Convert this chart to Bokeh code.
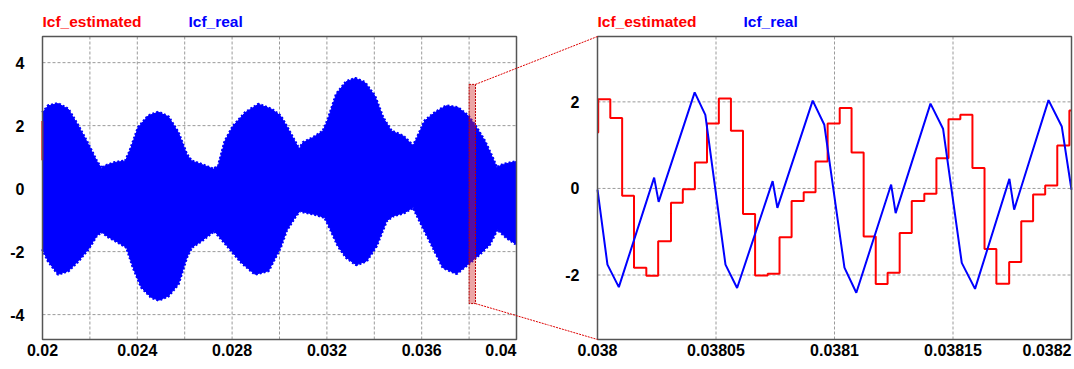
from bokeh.plotting import figure
from bokeh.layouts import row
from bokeh.models import Range1d
from bokeh.core.properties import value
from bokeh.embed import file_html
from bokeh.resources import INLINE

FONT = "Liberation Sans"

# ---------------- data ----------------
# left panel: envelope of the dense Icf_real waveform
env_up_x = [0.02, 0.02024, 0.02066, 0.02109, 0.02151, 0.02193, 0.02228, 0.02249, 0.02263, 0.02306,
            0.02350, 0.02369, 0.02404, 0.02446, 0.02489, 0.02531, 0.02573, 0.02608, 0.02629, 0.02671,
            0.02721, 0.02742, 0.02770, 0.02805, 0.02855, 0.02911, 0.02967, 0.03004,
            0.03029, 0.03064, 0.03083, 0.03099, 0.03142, 0.03184, 0.03205, 0.03240, 0.03282, 0.03320,
            0.03360, 0.03402, 0.03437, 0.03472, 0.03522, 0.03564, 0.03578, 0.03613, 0.03655, 0.03704,
            0.03754, 0.03796, 0.03831, 0.03866, 0.03902, 0.03916, 0.03944, 0.04]
env_up_y = [2.41, 2.63, 2.70, 2.52, 1.99, 1.41, 0.88, 0.64, 0.72, 0.83,
            0.88, 1.20, 1.94, 2.31, 2.43, 2.28, 1.78, 1.09, 0.88, 0.77,
            0.62, 0.72, 1.51, 1.99, 2.41, 2.68, 2.52, 2.31,
            1.99, 1.51, 1.25, 1.46, 1.62, 1.83, 2.20, 3.00, 3.40, 3.50,
            3.37, 2.94, 2.25, 1.83, 1.67, 1.36, 1.57, 2.15, 2.41, 2.63,
            2.57, 2.31, 1.94, 1.51, 0.93, 0.67, 0.77, 0.86]
env_lo_x = [0.02, 0.02024, 0.02066, 0.02109, 0.02151, 0.02193, 0.02228, 0.02249, 0.02277, 0.02320,
            0.02355, 0.02383, 0.02418, 0.02460, 0.02491, 0.02531, 0.02573, 0.02608, 0.02629, 0.02671,
            0.02725, 0.02749, 0.02791, 0.02840, 0.02897, 0.02953, 0.03004,
            0.03029, 0.03064, 0.03085, 0.03113, 0.03156, 0.03191, 0.03212, 0.03247, 0.03282, 0.03324,
            0.03367, 0.03409, 0.03451, 0.03479, 0.03528, 0.03564, 0.03592, 0.03634, 0.03690, 0.03747,
            0.03796, 0.03845, 0.03887, 0.03919, 0.03958, 0.04]
env_lo_y = [-1.92, -2.30, -2.72, -2.61, -2.30, -1.92, -1.50, -1.37, -1.53, -1.71,
            -1.87, -2.51, -3.14, -3.46, -3.54, -3.41, -3.03, -2.19, -1.87, -1.66,
            -1.34, -1.55, -1.92, -2.35, -2.72, -2.61, -1.87,
            -1.34, -0.92, -0.71, -0.76, -0.83, -0.92, -1.24, -1.82, -2.19, -2.42,
            -2.30, -1.82, -1.03, -0.87, -0.76, -0.60, -1.03, -1.66, -2.51, -2.70,
            -2.40, -2.08, -1.77, -1.29, -1.56, -1.77]
# visible start of Icf_estimated in the left panel
left_est_x = [0.02, 0.02]
left_est_y = [0.90, 2.15]

# right panel (zoom of 0.038 .. 0.0382 s), times in microseconds after T0
T0 = 0.038
est_t_us = [0, 0.3, 5.4, 10.4, 15.4, 20.6, 25.6, 31.0, 36.0, 41.1,
            46.2, 51.2, 56.3, 61.4, 66.5, 71.8, 76.8, 81.9, 87.0, 92.0,
            97.1, 102.2, 107.2, 112.3, 117.4, 122.4, 127.5, 132.6, 137.9, 143.0,
            148.1, 153.1, 158.2, 163.3, 168.3, 173.7, 178.8, 183.8, 188.9, 194.0,
            199.1, 200.0]
est_val = [1.29, 2.06, 1.63, -0.17, -1.83, -2.02, -1.22, -0.33, -0.02, 0.60,
           1.50, 2.08, 1.33, -0.59, -2.01, -1.97, -1.13, -0.29, -0.09, 0.62,
           1.50, 1.86, 0.83, -1.11, -2.21, -1.95, -1.03, -0.29, -0.12, 0.70,
           1.60, 1.70, 0.47, -1.40, -2.20, -1.70, -0.76, -0.14, 0.07, 0.99,
           1.80, 1.80]
real_t_us = [0, 4.2, 9.0, 23.9, 25.8, 41.0, 45.5, 54.0, 58.9, 73.9, 75.9, 90.8, 95.7,
             104.2, 109.2, 123.9, 125.8, 140.5, 145.8, 153.7, 159.3, 173.8, 175.8, 190.3, 195.9, 200.0]
real_val = [-0.03, -1.76, -2.28, 0.25, -0.31, 2.22, 1.70, -1.76, -2.30, 0.17, -0.45, 2.03, 1.47,
            -1.83, -2.41, 0.09, -0.57, 1.96, 1.38, -1.72, -2.32, 0.22, -0.49, 2.04, 1.43, -0.03]

# zoom window marked on the left panel
zoom_x = [0.038, 0.03827]
zoom_y = [-3.65, 3.31]

# ticks / labels
x1_ticks = [0.02, 0.024, 0.028, 0.032, 0.036]
x1_labels = ["0.02", "0.024", "0.028", "0.032", "0.036"]
x1_last = (0.04, "0.04")
x1_grid = [0.022, 0.024, 0.026, 0.028, 0.03, 0.032, 0.034, 0.036, 0.038]
y1_ticks = [-4, -2, 0, 2, 4]
x2_ticks = [0.038, 0.03805, 0.0381, 0.03815]
x2_labels = ["0.038", "0.03805", "0.0381", "0.03815"]
x2_last = (0.0382, "0.0382")
x2_grid = [0.03805, 0.0381, 0.03815]
y2_ticks = [-2, 0, 2]
series_names = ["Icf_estimated", "Icf_real"]
series_colors = ["#ff0000", "#0000ff"]

# ---------------- layout (pixels) ----------------
H = 366
W1, W2 = 548, 525
BOX_T, BOX_B = 36, 339
BOX1_L, BOX1_R = 42, 516
BOX2_L, BOX2_R = 49, 523
X1R = (0.02, 0.04)
Y1R = (-4.79, 4.83)
X2R = (0.038, 0.0382)
Y2R = (-3.49, 3.51)


def make_fig(w, bl, br, xr, yr):
    sx = (xr[1] - xr[0]) / (br - bl)
    sy = (yr[1] - yr[0]) / (BOX_B - BOX_T)
    p = figure(width=w, height=H,
               x_range=Range1d(xr[0] - bl * sx, xr[0] + (w - bl) * sx),
               y_range=Range1d(yr[0] - (H - BOX_B) * sy, yr[1] + BOX_T * sy),
               output_backend="svg", toolbar_location=None, title=None,
               x_axis_type=None, y_axis_type=None,
               min_border=0, min_border_left=0, min_border_right=0,
               min_border_top=0, min_border_bottom=0)
    p.outline_line_color = None
    p.background_fill_color = "white"
    p.border_fill_color = "white"
    return p, sx, sy


def draw_grid(p, xr, yr, xg, yt):
    p.segment(x0=xg, y0=[yr[0]] * len(xg), x1=xg, y1=[yr[1]] * len(xg),
              line_color="#9a9a9a", line_dash="3 2", line_width=1)
    p.segment(x0=[xr[0]] * len(yt), y0=yt, x1=[xr[1]] * len(yt), y1=yt,
              line_color="#9a9a9a", line_dash="3 2", line_width=1)


def draw_box_and_texts(p, xr, yr, xt, xl, last, yt):
    p.quad(left=[xr[0]], right=[xr[1]], bottom=[yr[0]], top=[yr[1]],
           fill_color=None, line_color="#555555", line_width=1.5)
    common = dict(text_font=value(FONT), text_font_style="bold", text_font_size="16px",
                  text_color="black")
    p.text(x=xt, y=[yr[0]] * len(xt), text=xl, text_align="center", text_baseline="top",
           y_offset=4, **common)
    p.text(x=[last[0]], y=[yr[0]], text=[last[1]], text_align="right", text_baseline="top",
           y_offset=4, **common)
    p.text(x=[xr[0]] * len(yt), y=yt, text=[str(t) for t in yt], text_align="right",
           text_baseline="middle", x_offset=-18, **common)
    for i, (name, col) in enumerate(zip(series_names, series_colors)):
        p.text(x=[xr[0]], y=[yr[1]], text=[name], x_offset=146 * i, y_offset=-15,
               text_align="left", text_baseline="alphabetic", text_color=col,
               text_font=value(FONT), text_font_style="bold", text_font_size="15.5px")


p1, sx1, sy1 = make_fig(W1, BOX1_L, BOX1_R, X1R, Y1R)
p2, sx2, sy2 = make_fig(W2, BOX2_L, BOX2_R, X2R, Y2R)

# ---- left panel ----
draw_grid(p1, X1R, Y1R, x1_grid, y1_ticks)
p1.line(left_est_x, left_est_y, line_color=series_colors[0], line_width=2)
p1.patch(x=env_up_x + env_lo_x[::-1], y=env_up_y + env_lo_y[::-1],
         fill_color=series_colors[1], line_color=series_colors[1], line_width=1)
for ex, ey in ((env_up_x, env_up_y), (env_lo_x, env_lo_y)):
    p1.line(ex, ey, line_color=series_colors[1], line_width=3, line_dash="2 2")
p1.line(left_est_x, left_est_y, line_color=series_colors[0], line_width=1.5)
p1.quad(left=[zoom_x[0]], right=[zoom_x[1]], bottom=[zoom_y[0]], top=[zoom_y[1]],
        fill_color="#d02020", fill_alpha=0.4, line_color="#c00000", line_dash="2 1", line_width=1)
draw_box_and_texts(p1, X1R, Y1R, x1_ticks, x1_labels, x1_last, y1_ticks)

# ---- right panel ----
draw_grid(p2, X2R, Y2R, x2_grid, y2_ticks)
est_t = [T0 + u * 1e-6 for u in est_t_us]
real_t = [T0 + u * 1e-6 for u in real_t_us]
p2.step(est_t, est_val, mode="after", line_color=series_colors[0], line_width=2)
p2.line(real_t, real_val, line_color=series_colors[1], line_width=2)
draw_box_and_texts(p2, X2R, Y2R, x2_ticks, x2_labels, x2_last, y2_ticks)


# ---- connector lines (zoom box corners -> right panel frame corners) ----
def page_x1(x):
    return BOX1_L + (x - X1R[0]) / sx1


def page_x2(x):
    return W1 + BOX2_L + (x - X2R[0]) / sx2


def page_y(y, yr, sy):
    return BOX_T + (yr[1] - y) / sy


def data_x1(px):
    return X1R[0] + (px - BOX1_L) * sx1


def data_x2(px):
    return X2R[0] + (px - W1 - BOX2_L) * sx2


def data_y(py, yr, sy):
    return yr[1] - (py - BOX_T) * sy


for zy, cy in ((zoom_y[1], Y2R[1]), (zoom_y[0], Y2R[0])):
    ax, ay = page_x1(zoom_x[1]), page_y(zy, Y1R, sy1)
    bx, by = page_x2(X2R[0]), page_y(cy, Y2R, sy2)
    p1.segment(x0=[zoom_x[1]], y0=[zy], x1=[data_x1(bx)], y1=[data_y(by, Y1R, sy1)],
               line_color="#dd0000", line_dash="2 1", line_width=1)
    p2.segment(x0=[data_x2(ax)], y0=[data_y(ay, Y2R, sy2)], x1=[X2R[0]], y1=[cy],
               line_color="#dd0000", line_dash="2 1", line_width=1)

layout = row(p1, p2)
open("out.html", "w").write(file_html(layout, INLINE, "plot"))
